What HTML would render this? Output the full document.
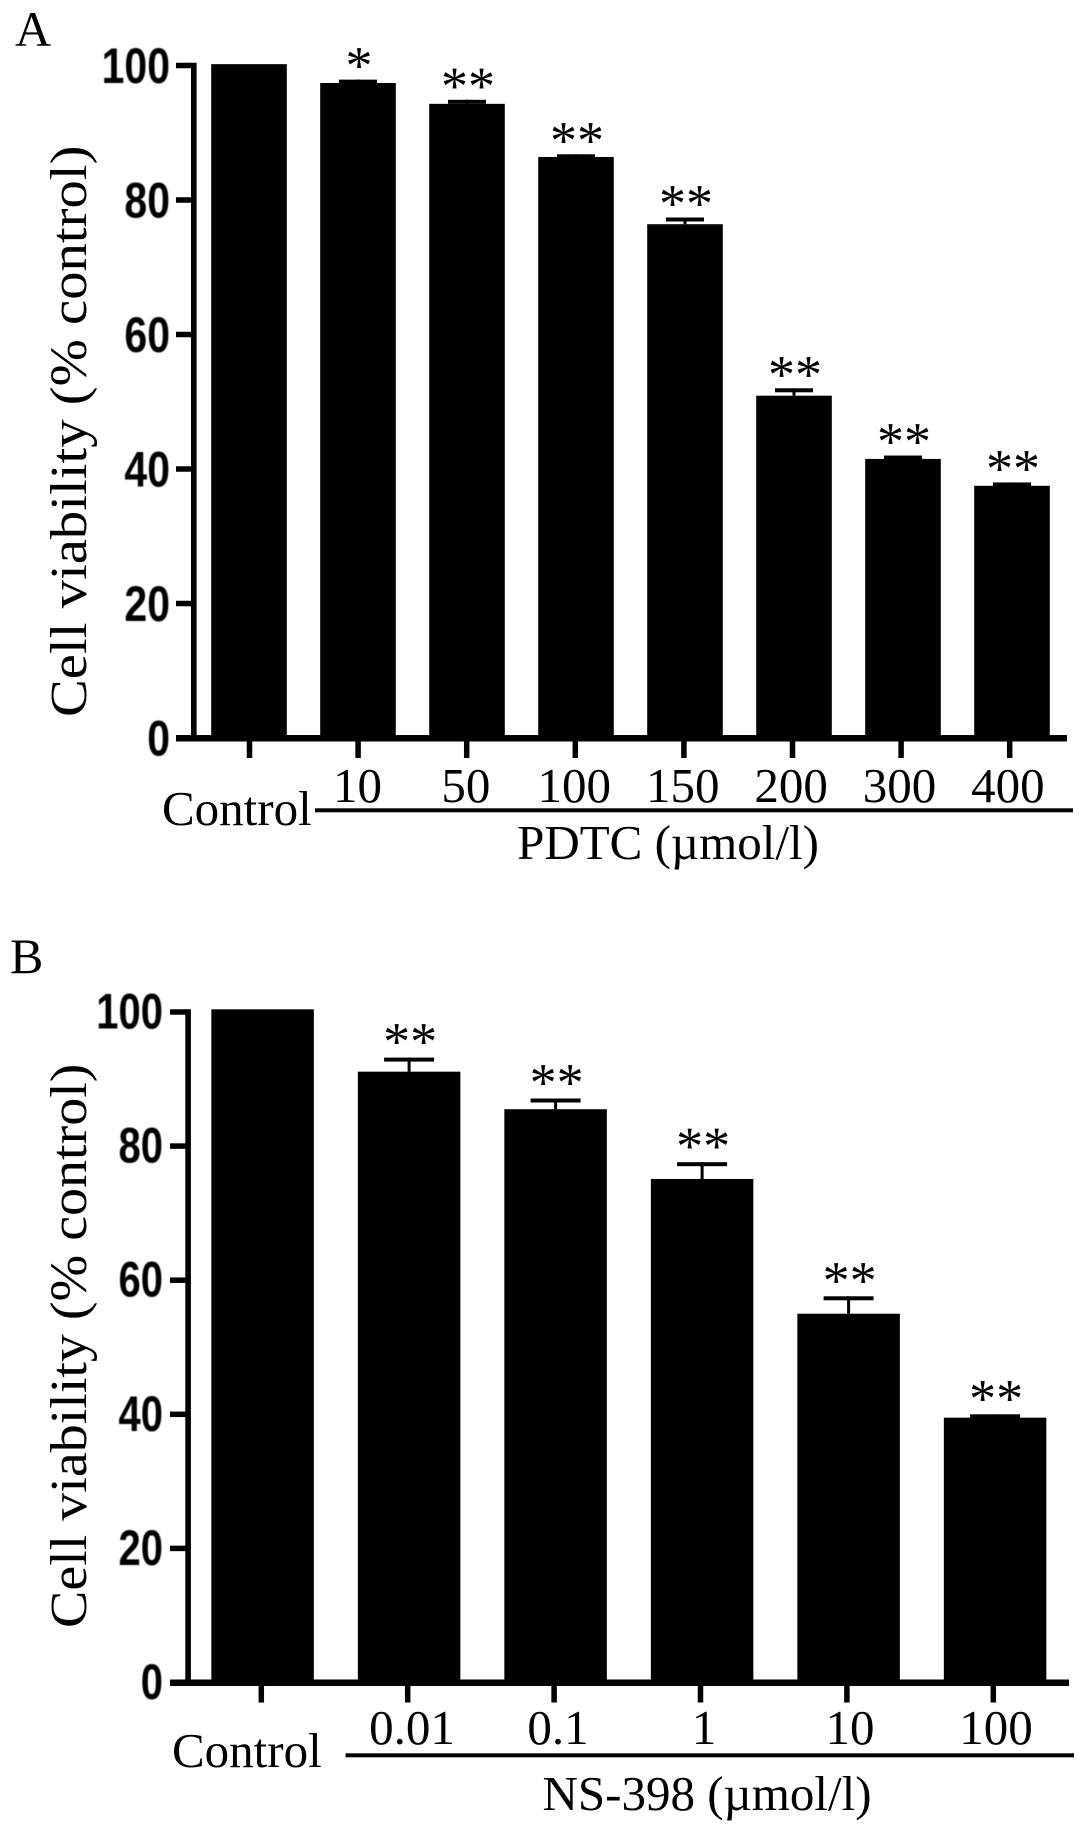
<!DOCTYPE html>
<html lang="en">
<head>
<meta charset="utf-8">
<title>Cell viability bar charts</title>
<style>
html,body{margin:0;padding:0;background:#fff;width:1087px;height:1833px;overflow:hidden}
svg{display:block;filter:blur(0.35px)}
text{fill:#000;font-family:"Liberation Serif",serif}
.ytick{font-family:"Liberation Sans",sans-serif;font-weight:700;font-size:50px;text-anchor:end;filter:blur(0.6px)}
.lab{font-size:49px}
.star{font-size:54px;text-anchor:middle}
.title{font-size:56.7px}
</style>
</head>
<body>
<svg id="fig" xmlns="http://www.w3.org/2000/svg" width="1087" height="1833" viewBox="0 0 1087 1833">
  <rect width="1087" height="1833" fill="#fff"/>
  <text x="15" y="46" font-size="50">A</text>
  <text x="10" y="973" font-size="50">B</text>
  <text class="title" transform="translate(86,717) rotate(-90) scale(1,0.92)">Cell viability (% control)</text>
  <text class="title" style="font-size:56px" transform="translate(86,1628) rotate(-90) scale(1,0.92)">Cell viability (% control)</text>
  <text class="lab" x="162" y="825">Control</text>
  <text class="lab" x="172" y="1767">Control</text>
  <rect x="315" y="808.3" width="758" height="4" fill="#000"/>
  <rect x="345.6" y="1753.3" width="728.4" height="4" fill="#000"/>
  <text class="lab" x="668" y="859" text-anchor="middle">PDTC (µmol/l)</text>
  <text class="lab" x="707" y="1810" text-anchor="middle">NS-398 (µmol/l)</text>
</svg>
<script>
var yTickValues = [0, 20, 40, 60, 80, 100];
var yTickLabels = ['0', '20', '40', '60', '80', '100'];

var panelACategories = ['Control', '10', '50', '100', '150', '200', '300', '400'];
var panelAValues = [100.2, 97.4, 94.3, 86.4, 76.4, 50.9, 41.5, 37.5];
var panelAErrors = [0, 0.5, 0.6, 0.4, 1.0, 1.1, 0.5, 0.5];
var panelAStars = ['', '*', '**', '**', '**', '**', '**', '**'];

var panelBCategories = ['Control', '0.01', '0.1', '1', '10', '100'];
var panelBValues = [100.4, 91.1, 85.5, 75.1, 55.0, 39.5];
var panelBErrors = [0, 2.1, 1.6, 2.5, 2.6, 0.5];
var panelBStars = ['', '**', '**', '**', '**', '**'];

var svg = document.getElementById('fig');
var NS = 'http://www.w3.org/2000/svg';

function make(tag, props) {
  var el = document.createElementNS(NS, tag);
  for (var k in props) el.setAttribute(k, props[k]);
  svg.appendChild(el);
  return el;
}

function drawPanel(p, categories, values, errors, stars) {
  var i, el;
  var y = function (v) { return p.y0 - p.yScale * v; };
  var barX = function (idx) { return p.barStart + p.barStep * idx; };
  var tickX = function (idx) { return p.tickStart + p.tickStep * idx; };
  var labelX = function (idx) { return p.labelStart + p.labelStep * idx; };

  for (i = 0; i < values.length; i++) {
    el = make('rect', {
      x: barX(i) - p.barW / 2,
      y: y(values[i]),
      width: p.barW,
      height: y(0) - y(values[i]),
      fill: '#000'
    });
    
    

    if (errors[i] > 0) {
      var capTop = y(values[i] + errors[i]);
      el = make('rect', {
        x: barX(i) - p.capW / 2,
        y: capTop,
        width: p.capW,
        height: Math.min(4, y(values[i]) - capTop + 1),
        fill: '#000'
      });
      
      

      el = make('rect', {
        x: barX(i) - 1.5,
        y: capTop,
        width: 3,
        height: y(values[i]) - capTop,
        fill: '#000'
      });
      
      
    }

    if (stars[i]) {
      var base = y(values[i] + errors[i]) + p.starOffset;
      el = make('text', { x: barX(i) + 1, y: base, 'class': 'star' });
      el.textContent = stars[i];
      
      
    }
  }

  // y axis line
  el = make('rect', {
    x: p.axisX,
    y: y(100) - 2.75,
    width: 5.6,
    height: p.y0 + 3.5 - y(100) + 2.75,
    fill: '#000'
  });
  
  

  // x axis line
  el = make('rect', {
    x: p.xAxisLeft,
    y: p.y0 - 3,
    width: p.xAxisRight - p.xAxisLeft,
    height: 6.5,
    fill: '#000'
  });
  
  

  // y ticks + labels
  for (i = 0; i < yTickValues.length; i++) {
    el = make('rect', {
      x: p.xAxisLeft,
      y: y(yTickValues[i]) - 2.75,
      width: p.axisX - p.xAxisLeft + 1,
      height: 5.5,
      fill: '#000'
    });
    
    

    el = make('text', {
      'class': 'ytick',
      transform: 'translate(' + p.yLabelRight + ',' + (y(yTickValues[i]) + p.yLabelDrop) + ') scale(' + p.yLabelScale + ',1)'
    });
    el.textContent = yTickLabels[i];
    
    
  }

  // x ticks + labels
  for (i = 0; i < categories.length; i++) {
    el = make('rect', {
      x: tickX(i) - 2.75,
      y: p.y0 + 3,
      width: 5.5,
      height: 17,
      fill: '#000'
    });
    
    

    if (i > 0) {
      el = make('text', {
        x: labelX(i - 1),
        y: p.labelBase,
        'class': 'lab',
        'text-anchor': 'middle'
      });
      el.textContent = categories[i];
      
      
    }
  }
}

drawPanel({
  id: 'panel-a', y0: 738, yScale: 6.725,
  barStart: 249, barStep: 109, barW: 75.6, capW: 38,
  tickStart: 249.5, tickStep: 108.6,
  labelStart: 357.5, labelStep: 108.4, labelBase: 802,
  axisX: 191, xAxisLeft: 176, xAxisRight: 1067,
  yLabelRight: 170, yLabelDrop: 17.5, yLabelScale: 0.82, starOffset: 4
}, panelACategories, panelAValues, panelAErrors, panelAStars);

drawPanel({
  id: 'panel-b', y0: 1682.5, yScale: 6.705,
  barStart: 262.6, barStep: 146.5, barW: 102.5, capW: 50,
  tickStart: 261.3, tickStep: 146.4,
  labelStart: 412, labelStep: 146, labelBase: 1744,
  axisX: 185.3, xAxisLeft: 170, xAxisRight: 1069,
  yLabelRight: 163, yLabelDrop: 16.5, yLabelScale: 0.8, starOffset: 2
}, panelBCategories, panelBValues, panelBErrors, panelBStars);
</script>
</body>
</html>
